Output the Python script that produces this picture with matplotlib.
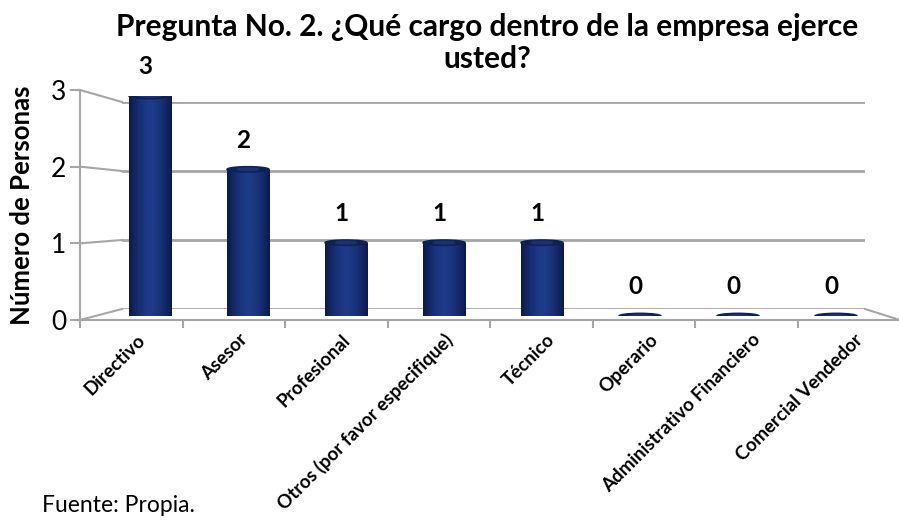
import numpy as np
import matplotlib
matplotlib.use("Agg")
import matplotlib.pyplot as plt
from matplotlib.lines import Line2D
from matplotlib.patches import Ellipse

plt.rcParams["font.family"] = ["Lato", "DejaVu Sans"]

# data
categories = ["Directivo", "Asesor", "Profesional", "Otros (por favor especifique)",
              "Técnico", "Operario", "Administrativo Financiero", "Comercial Vendedor"]
counts = [3, 2, 1, 1, 1, 0, 0, 0]
y_ticks = [0, 1, 2, 3]
title_lines = ["Pregunta No. 2. ¿Qué cargo dentro de la empresa ejerce", "usted?"]

W, H = 899, 527
GRID = "#A6A6A6"
NAVY = "#0D2159"


def box(x0, y_top, x1, y_bot):
    # pixel box (from top-left) -> figure fraction rect
    return [x0 / W, 1 - y_bot / H, (x1 - x0) / W, (y_bot - y_top) / H]


fig = plt.figure(figsize=(W / 100, H / 100), dpi=100)

# back wall with the gridlines
ax_back = fig.add_axes(box(122, 102, 865, 309))
ax_back.set_xlim(0, len(categories))
ax_back.set_ylim(0, 3)
ax_back.axis("off")
for v in y_ticks:
    ax_back.axhline(v, color=GRID, lw=2, zorder=1)

# front axis: value ticks and category labels
ax = fig.add_axes(box(80, 90, 900, 320))
ax.set_xlim(0, len(categories))
ax.set_ylim(0, 3)
ax.patch.set_alpha(0)
for s in ["top", "right"]:
    ax.spines[s].set_visible(False)
for s in ["left", "bottom"]:
    ax.spines[s].set_color(GRID)
    ax.spines[s].set_linewidth(1.5)
ax.set_yticks(y_ticks)
ax.set_yticklabels([str(v) for v in y_ticks], fontsize=19)
ax.tick_params(axis="y", length=7, width=1.5, color=GRID, pad=3)
ax.set_xticks(np.arange(len(categories) + 1))
ax.set_xticklabels([])
ax.tick_params(axis="x", which="major", length=6, width=1.5, color=GRID)
ax.set_xticks(np.arange(len(categories)) + 0.55, minor=True)
ax.set_xticklabels(categories, minor=True, rotation=45, ha="right",
                   rotation_mode="anchor", fontsize=13.5, fontweight="bold")
ax.tick_params(axis="x", which="minor", length=0, pad=8)
ax.set_ylabel("Número de Personas", fontsize=18.5, fontweight="bold", labelpad=12)

# side wall and floor edges joining front and back
to_fig = fig.transFigure.inverted()
for v in y_ticks:
    p0 = to_fig.transform(ax.transData.transform((0, v)))
    p1 = to_fig.transform(ax_back.transData.transform((0, v)))
    fig.lines.append(Line2D([p0[0], p1[0]], [p0[1], p1[1]], color=GRID, lw=1.5,
                            transform=fig.transFigure))
p0 = to_fig.transform(ax.transData.transform((len(categories), 0)))
p1 = to_fig.transform(ax_back.transData.transform((len(categories), 0)))
fig.lines.append(Line2D([p0[0], p1[0]], [p0[1], p1[1]], color=GRID, lw=1.5,
                        transform=fig.transFigure))

# cylinders
ax_bar = fig.add_axes(box(101, 96, 885, 316))
ax_bar.set_xlim(-0.5, len(categories) - 0.5)
ax_bar.set_ylim(0, 3)
ax_bar.axis("off")
ax_bar.patch.set_alpha(0)

bw = 0.43
cap = 0.075
shade = np.abs(np.linspace(-1, 1, 64)) ** 1.6
grad = matplotlib.colors.LinearSegmentedColormap.from_list(
    "cyl", ["#1E3B88", "#0A1A4E"])
x = np.arange(len(categories))
bars = ax_bar.bar(x, counts, width=bw, color=NAVY, zorder=2)
for xi, v, b in zip(x, counts, bars):
    if v > 0:
        im = ax_bar.imshow(shade[None, :], cmap=grad, aspect="auto",
                           extent=(xi - bw / 2, xi + bw / 2, 0, v), zorder=3)
        im.set_clip_path(b)
    ax_bar.add_patch(Ellipse((xi, v), bw, cap, color=NAVY, zorder=4))
    ax_bar.add_patch(Ellipse((xi, v), bw * 0.5, cap * 0.5, color="#1A3175", zorder=5))
    ax_bar.annotate(str(v), (xi - 0.05, v), xytext=(0, 21), textcoords="offset points",
                    ha="center", va="center", fontsize=17.5, fontweight="bold")
ax_bar.set_xlim(-0.5, len(categories) - 0.5)
ax_bar.set_ylim(0, 3)

fig.text(487 / W, 1 - 27 / H, title_lines[0], ha="center", va="center",
         fontsize=21.5, fontweight="bold")
fig.text(487 / W, 1 - 59 / H, title_lines[1], ha="center", va="center",
         fontsize=21.5, fontweight="bold")
fig.text(42 / W, 1 - 505 / H, "Fuente: Propia.", ha="left", va="center", fontsize=16.5)

fig.savefig("out.png", dpi=100)
